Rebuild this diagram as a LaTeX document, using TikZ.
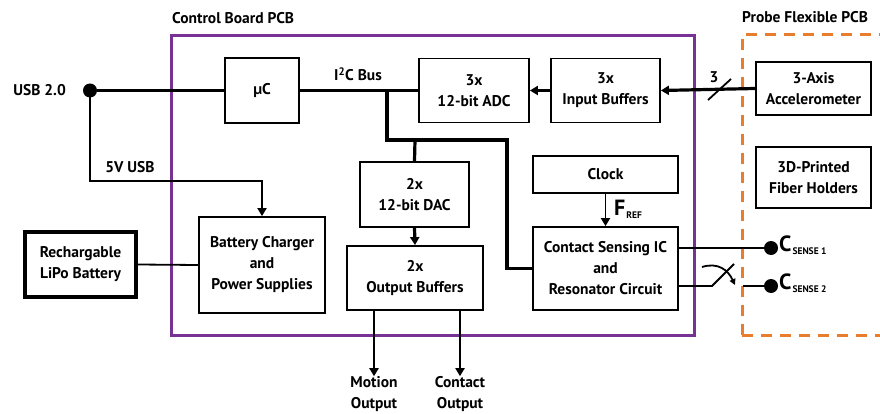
\documentclass[tikz,border=0pt]{standalone}
\usepackage{fontspec}
\setmainfont{PT Sans}
\usetikzlibrary{arrows.meta,calc}
\definecolor{pcbpurple}{RGB}{120,50,150}
\definecolor{pcborange}{RGB}{232,125,46}
\begin{document}
\begin{tikzpicture}[x=1pt,y=-1pt,
  every node/.style={font=\bfseries\fontsize{15.5}{21}\selectfont, inner sep=0pt},
  blk/.style={draw, line width=1.8pt, align=center},
  thinline/.style={line width=1.8pt},
  thickline/.style={line width=3.2pt},
  arr/.style={-{Triangle[length=8pt,width=9pt]}},
  dot/.style={circle, fill=black, minimum size=14pt},
  lbl/.style={align=center}]
\clip (0,0) rectangle (880,414);
\useasboundingbox (0,0) rectangle (880,414);
% PCB outlines
\draw[pcbpurple, line width=3pt] (171,36) rectangle (694,335);
\draw[pcborange, line width=3pt, dash pattern=on 11pt off 8pt] (742,335) -- (742,35) -- (900,35);
\draw[pcborange, line width=3pt, dash pattern=on 11pt off 8pt] (742,335) -- (900,335);
\node[anchor=west] (cbl) at (172,18) {Control Board PCB};
\node[anchor=west] (pfl) at (742,17) {Probe Flexible PCB};
% blocks
\node[blk, minimum width=74, minimum height=65] (uc) at (262,90.5) {µC};
\node[blk, minimum width=110, minimum height=64] (adc) at (474,90.5) {3x\\12-bit ADC};
\node[blk, minimum width=109, minimum height=64] (ib) at (605.5,90.5) {3x\\Input Buffers};
\node[blk, minimum width=115, minimum height=53] (acc) at (813.5,88.5) {3-Axis\\Accelerometer};
\node[blk, minimum width=115, minimum height=61] (fh) at (813.5,177.5) {3D-Printed\\Fiber Holders};
\node[blk, minimum width=109, minimum height=65] (dac) at (414.5,194.5) {2x\\12-bit DAC};
\node[blk, minimum width=136, minimum height=64] (ob) at (415,278) {2x\\Output Buffers};
\node[blk, minimum width=145, minimum height=37] (clk) at (605.5,174.5) {Clock};
\node[blk, minimum width=145, minimum height=83] (cs) at (605.5,268.5) {Contact Sensing IC\\and\\Resonator Circuit};
\node[blk, minimum width=126, minimum height=96] (bc) at (262,265) {Battery Charger\\and\\Power Supplies};
\node[blk, line width=3.2pt, minimum width=111, minimum height=65] (lipo) at (80.5,264.5) {Rechargable\\LiPo Battery};
% labels
\node[dot] (usb) at (90,90.5) {};
\node[anchor=east] (usbl) at (66,90) {USB 2.0};
\node (v5l) at (130,167) {5V USB};
\node (i2cl) at (358,74) {I\textsuperscript{2}C Bus};
\node[lbl] (mo) at (374,394) {Motion\\Output};
\node[lbl] (co) at (460,394) {Contact\\Output};
\node[dot] (d1) at (771,248) {};
\node[dot] (d2) at (771,286) {};
\node[anchor=west] (cs1l) at (779,245) {\fontsize{22}{22}\selectfont C\kern1pt\raisebox{-0.3ex}{\fontsize{9.5}{10}\selectfont SENSE 1}};
\node[anchor=west] (cs2l) at (779,283) {\fontsize{22}{22}\selectfont C\kern1pt\raisebox{-0.3ex}{\fontsize{9.5}{10}\selectfont SENSE 2}};
\node[anchor=west] (fref) at (614,209) {\fontsize{22}{22}\selectfont F\kern1pt\raisebox{-0.3ex}{\fontsize{9.5}{10}\selectfont REF}};
\node (bus3) at (714,77) {3};
% coordinates
\coordinate (j1) at (387,90.5);
\coordinate (j2) at (507,140);
\coordinate (j3) at (415,140);
\coordinate (c5v) at (262,181);
\coordinate (sw1) at (712,286);
\coordinate (sw2) at (734,264);
\coordinate (sw3) at (743,286);
\coordinate (s1) at (708,100);
\coordinate (s2) at (731,79);
\coordinate (ca) at (702,267);
\coordinate (cb) at (735,285);
% connectors
\draw[thickline] (usb) -- (uc.west);
\draw[thickline] (uc.east) -- (adc.west);
\draw[thickline] (j1) |- (j2) |- (cs.west);
\draw[thickline] (j3) -- (dac.north);
\draw[thickline, arr] (dac.south) -- (ob.north);
\draw[thickline, arr] (ib.west) -- (adc.east);
\draw[thickline, arr] (acc.west) -- (ib.east);
\draw[thinline] (s1) -- (s2);
\draw[thinline, arr] (usb.center) |- (c5v) -- (bc.north);
\draw[thinline] (lipo.east) -- (bc.west);
\draw[thinline, arr] (clk.south) -- (cs.north);
\draw[thinline, arr] (ob.south -| mo.north) -- (mo.north);
\draw[thinline, arr] (ob.south -| co.north) -- (co.north);
\draw[thinline] (d1 -| cs.east) -- (d1);
\draw[thinline] (d2 -| cs.east) -- (sw1) -- (sw2);
\draw[thinline] (sw3) -- (d2);
\draw[thinline, -{Triangle[length=6pt,width=6pt]}] (ca) .. controls (718,262) and (728,270) .. (cb);
\end{tikzpicture}
\end{document}
